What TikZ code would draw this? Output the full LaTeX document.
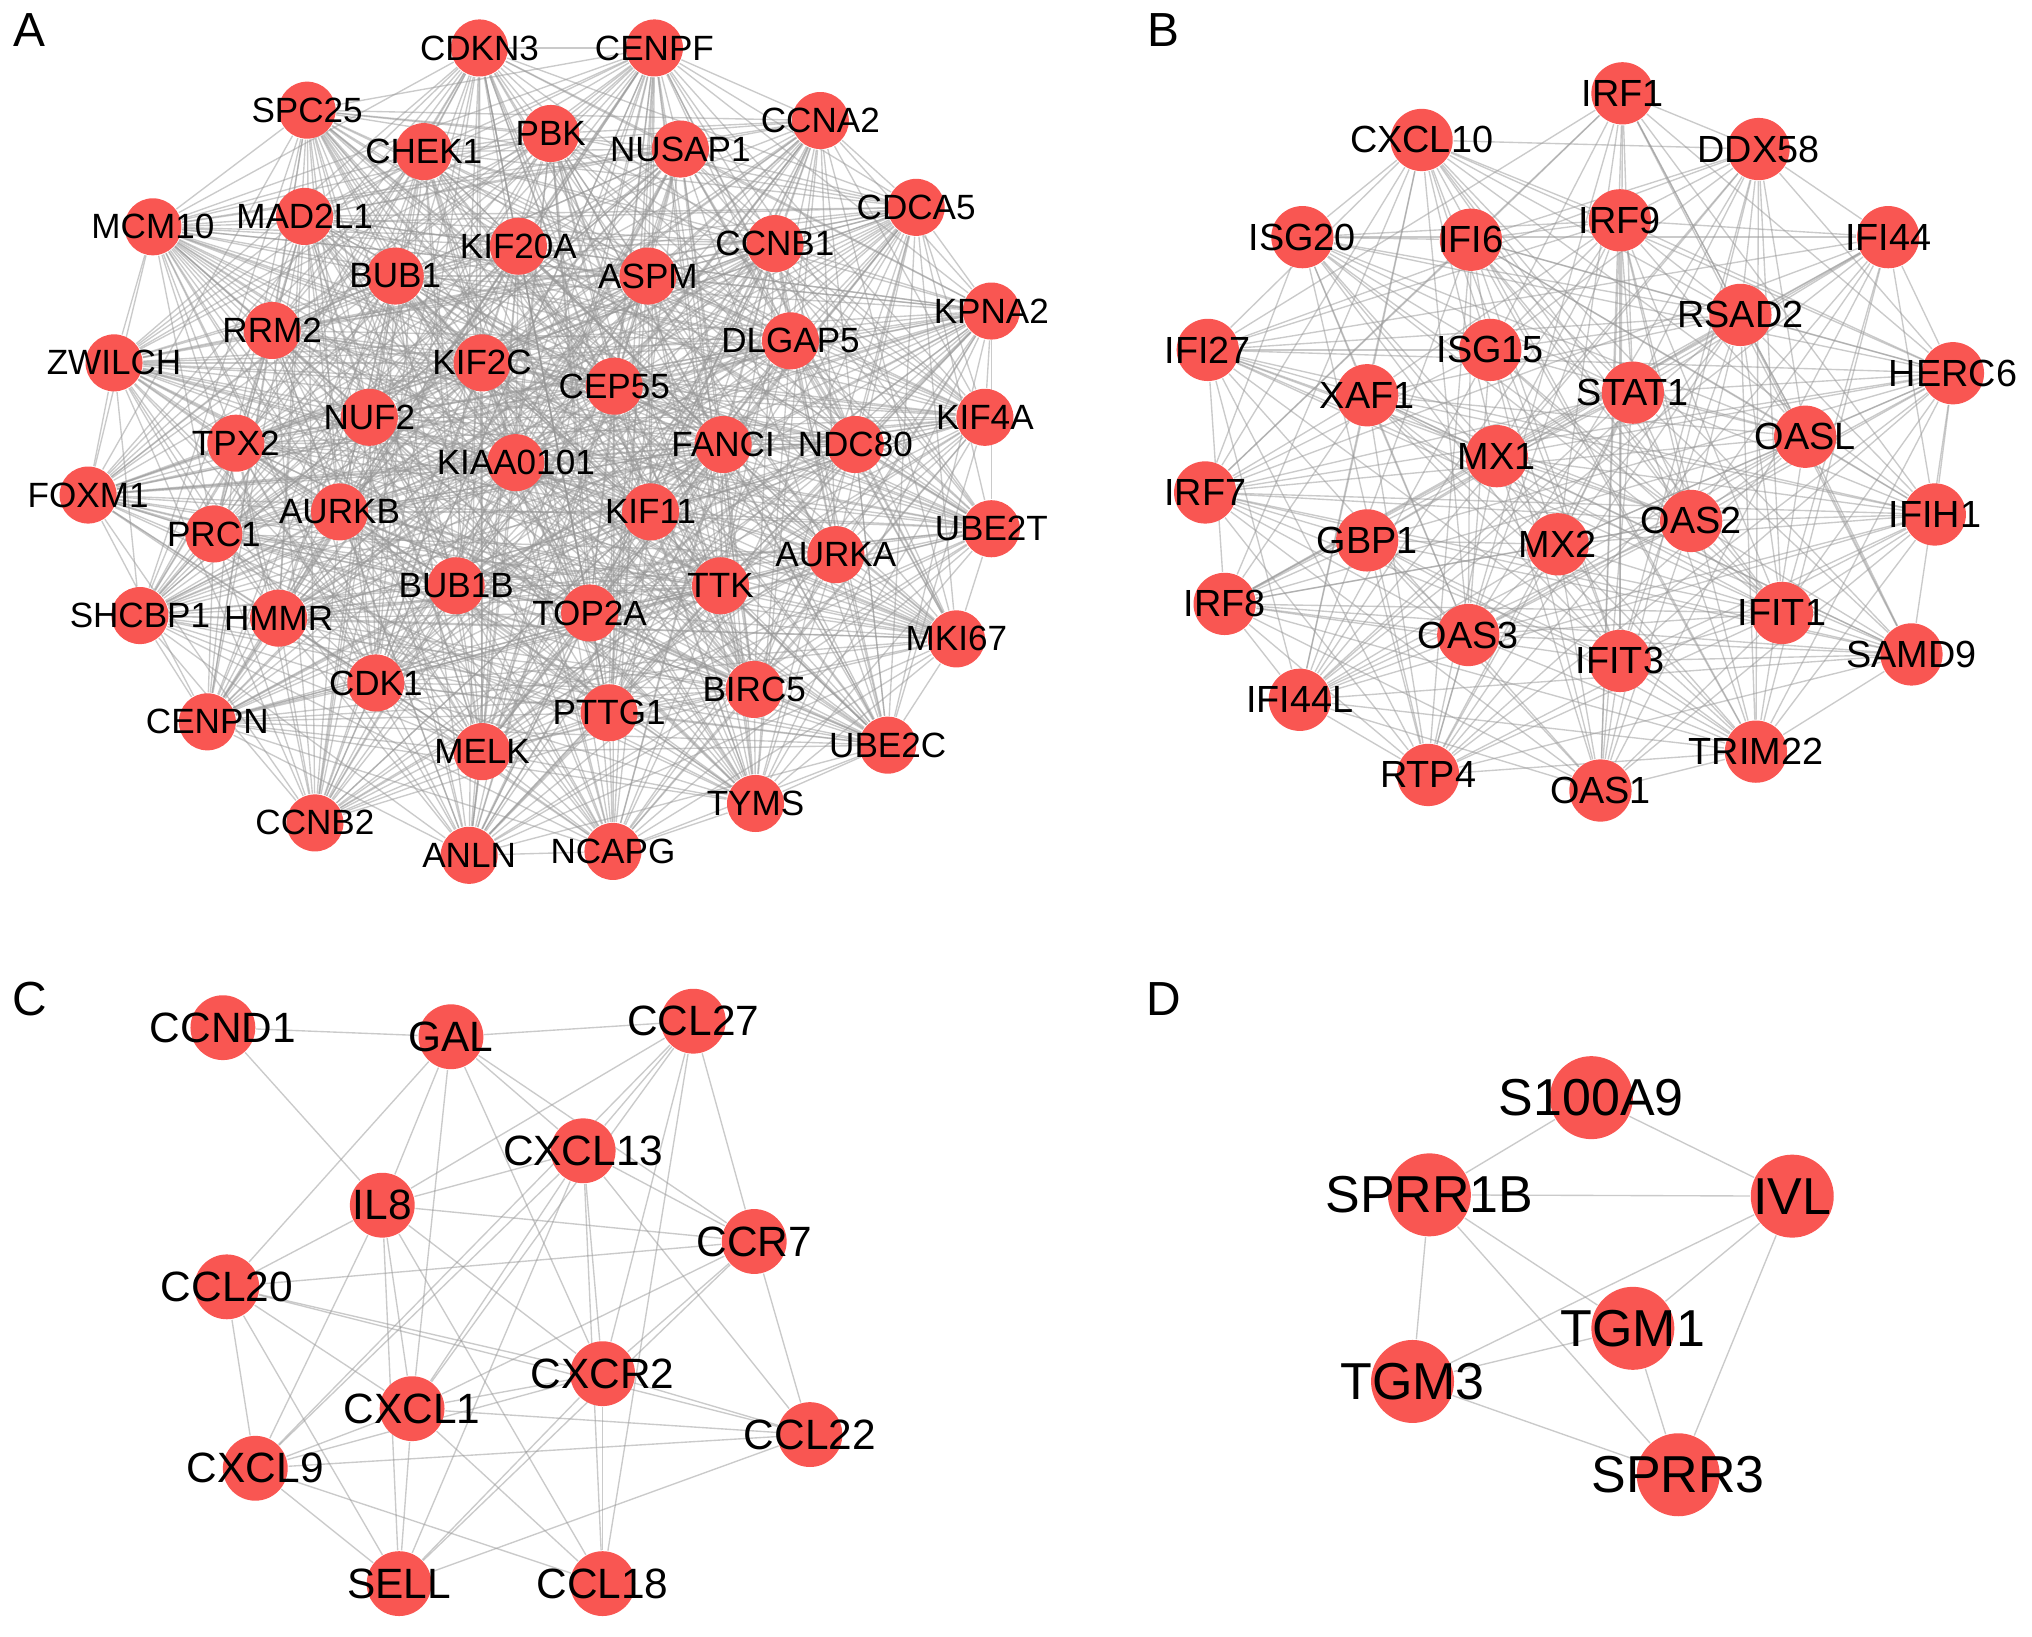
\documentclass[tikz,border=0pt]{standalone}
\usepackage{fontspec}
\setmainfont{Liberation Sans}
\usepackage{tikz}
\usetikzlibrary{backgrounds}

\definecolor{genered}{RGB}{249,86,82}
\definecolor{linkgray}{RGB}{150,150,150}

% gene lists of the two dense networks
\def\listA{CDKN3,CENPF,SPC25,CCNA2,CHEK1,PBK,NUSAP1,CDCA5,MCM10,MAD2L1,KIF20A,CCNB1,BUB1,ASPM,KPNA2,RRM2,DLGAP5,ZWILCH,KIF2C,CEP55,NUF2,KIF4A,TPX2,FANCI,NDC80,KIAA0101,FOXM1,AURKB,KIF11,PRC1,UBE2T,AURKA,BUB1B,TTK,TOP2A,SHCBP1,HMMR,MKI67,CDK1,BIRC5,PTTG1,CENPN,UBE2C,MELK,TYMS,CCNB2,ANLN,NCAPG}
\def\listB{IRF1,CXCL10,DDX58,ISG20,IFI6,IRF9,IFI44,RSAD2,IFI27,ISG15,HERC6,XAF1,STAT1,OASL,MX1,IRF7,OAS2,IFIH1,GBP1,MX2,IRF8,IFIT1,OAS3,IFIT3,SAMD9,IFI44L,TRIM22,RTP4,OAS1}

\begin{document}
\begin{tikzpicture}[x=0.01cm, y=-0.01cm,
  gene/.style={circle, fill=genered, inner sep=0pt},
  geneA/.style={gene, minimum size=0.44cm, label={[font=\fontsize{7.7}{8}\selectfont]center:#1}},
  geneB/.style={gene, minimum size=0.48cm, label={[font=\fontsize{8.3}{9}\selectfont]center:#1}},
  geneC/.style={gene, minimum size=0.50cm, label={[font=\fontsize{9.3}{10}\selectfont]center:#1}},
  geneD/.style={gene, minimum size=0.64cm, label={[font=\fontsize{11.4}{12}\selectfont]center:#1}},
  link/.style={draw=linkgray, draw opacity=0.5, line width=0.3pt},
  panel/.style={font=\fontsize{10.5}{12}\selectfont}]
\useasboundingbox (0,0) rectangle (1568,1263);

% panel letters
\node[panel] (lblA) at (23,23) {A};
\node[panel] (lblB) at (898,23) {B};
\node[panel] (lblC) at (23,771) {C};
\node[panel] (lblD) at (898,771) {D};

% A
\foreach \n/\x/\y in {CDKN3/370/37, CENPF/505/37, SPC25/237/85, CCNA2/633/93,
  CHEK1/327/117, PBK/425/103, NUSAP1/525/115, CDCA5/707/160, MCM10/118/175,
  MAD2L1/235/167, KIF20A/400/190, CCNB1/598/188, BUB1/305/213, ASPM/500/213,
  KPNA2/765/240, RRM2/210/255, DLGAP5/610/263, ZWILCH/88/280, KIF2C/372/280,
  CEP55/474/298, NUF2/285/322, KIF4A/760/322, TPX2/182/342, FANCI/558/343,
  NDC80/660/343, KIAA0101/398/357, FOXM1/68/382, AURKB/262/395, KIF11/502/395,
  PRC1/165/412, UBE2T/765/408, AURKA/645/428, BUB1B/352/452, TTK/556/452,
  TOP2A/455/473, SHCBP1/108/475, HMMR/215/477, MKI67/738/493, CDK1/290/527,
  BIRC5/582/532, PTTG1/470/550, CENPN/160/557, UBE2C/685/575, MELK/372/580,
  TYMS/583/620, CCNB2/243/635, ANLN/362/660, NCAPG/473/657}
  \node[geneA=\n] (a\n) at (\x,\y) {};

% B
\foreach \n/\x/\y in {IRF1/1252/72, CXCL10/1097/108, DDX58/1357/115, ISG20/1005/183,
  IFI6/1135/185, IRF9/1250/170, IFI44/1457/183, RSAD2/1343/243, IFI27/932/270,
  ISG15/1150/270, HERC6/1507/288, XAF1/1055/305, STAT1/1260/303, OASL/1393/337,
  MX1/1155/352, IRF7/930/380, OAS2/1305/402, IFIH1/1493/397, GBP1/1055/417,
  MX2/1202/420, IRF8/945/466, IFIT1/1375/473, OAS3/1133/490, IFIT3/1250/510,
  SAMD9/1475/505, IFI44L/1003/540, TRIM22/1355/580, RTP4/1102/598, OAS1/1235/610}
  \node[geneB=\n] (b\n) at (\x,\y) {};

% C
\foreach \n/\x/\y in {CCND1/172/793, GAL/348/800, CCL27/535/788, CXCL13/450/888,
  IL8/295/930, CCR7/582/958, CCL20/175/993, CXCR2/465/1060, CXCL1/318/1087,
  CCL22/625/1107, CXCL9/197/1133, SELL/308/1222, CCL18/465/1222}
  \node[geneC=\n] (c\n) at (\x,\y) {};

% D
\foreach \n/\x/\y in {S100A9/1228/847, SPRR1B/1103/922, IVL/1383/923,
  TGM1/1260/1025, TGM3/1090/1066, SPRR3/1295/1138}
  \node[geneD=\n] (d\n) at (\x,\y) {};

\begin{scope}[on background layer]
\pgfmathsetseed{4711}
\foreach \s [count=\i] in \listA
  \foreach \t [count=\j] in \listA {
    \pgfmathrandominteger{\pick}{0}{99}
    \ifnum\j>\i \ifnum\pick<78 \draw[link] (a\s) -- (a\t); \fi\fi
  }
\foreach \s [count=\i] in \listB
  \foreach \t [count=\j] in \listB {
    \pgfmathrandominteger{\pick}{0}{99}
    \ifnum\j>\i \ifnum\pick<68 \draw[link] (b\s) -- (b\t); \fi\fi
  }
\foreach \s/\t in {CCND1/GAL, CCND1/IL8, GAL/CCL27, GAL/IL8, GAL/CCL20, GAL/CXCL1,
  GAL/CXCL13, GAL/CXCR2, GAL/CCR7, CCL27/IL8, CCL27/CXCL13, CCL27/CCR7,
  CCL27/CXCR2, CCL27/CXCL1, CCL27/CXCL9, CCL27/CCL18, CXCL13/IL8, CXCL13/CCR7,
  CXCL13/CXCR2, CXCL13/CXCL1, CXCL13/CXCL9, CXCL13/SELL, CXCL13/CCL22,
  CXCL13/CCL18, IL8/CCL20, IL8/CCR7, IL8/CXCL1, IL8/CXCL9, IL8/SELL, IL8/CXCR2,
  IL8/CCL18, CCR7/CCL20, CCR7/CXCL1, CCR7/CCL22, CCR7/SELL, CCR7/CXCR2,
  CCL20/CXCL9, CCL20/CXCL1, CCL20/CXCR2, CCL20/SELL, CCL20/CCL22, CXCR2/CXCL1,
  CXCR2/CCL22, CXCR2/CCL18, CXCR2/SELL, CXCR2/CXCL9, CXCL1/CXCL9, CXCL1/CCL22,
  CXCL1/SELL, CXCL1/CCL18, CXCL9/CCL22, CXCL9/SELL, CXCL9/CCL18, SELL/CCL22}
  \draw[link] (c\s) -- (c\t);
\foreach \s/\t in {S100A9/SPRR1B, S100A9/IVL, SPRR1B/IVL, SPRR1B/TGM1, SPRR1B/SPRR3,
  SPRR1B/TGM3, IVL/TGM3, IVL/TGM1, IVL/SPRR3, TGM3/TGM1, TGM3/SPRR3, TGM1/SPRR3}
  \draw[link] (d\s) -- (d\t);
\end{scope}
\end{tikzpicture}
\end{document}
